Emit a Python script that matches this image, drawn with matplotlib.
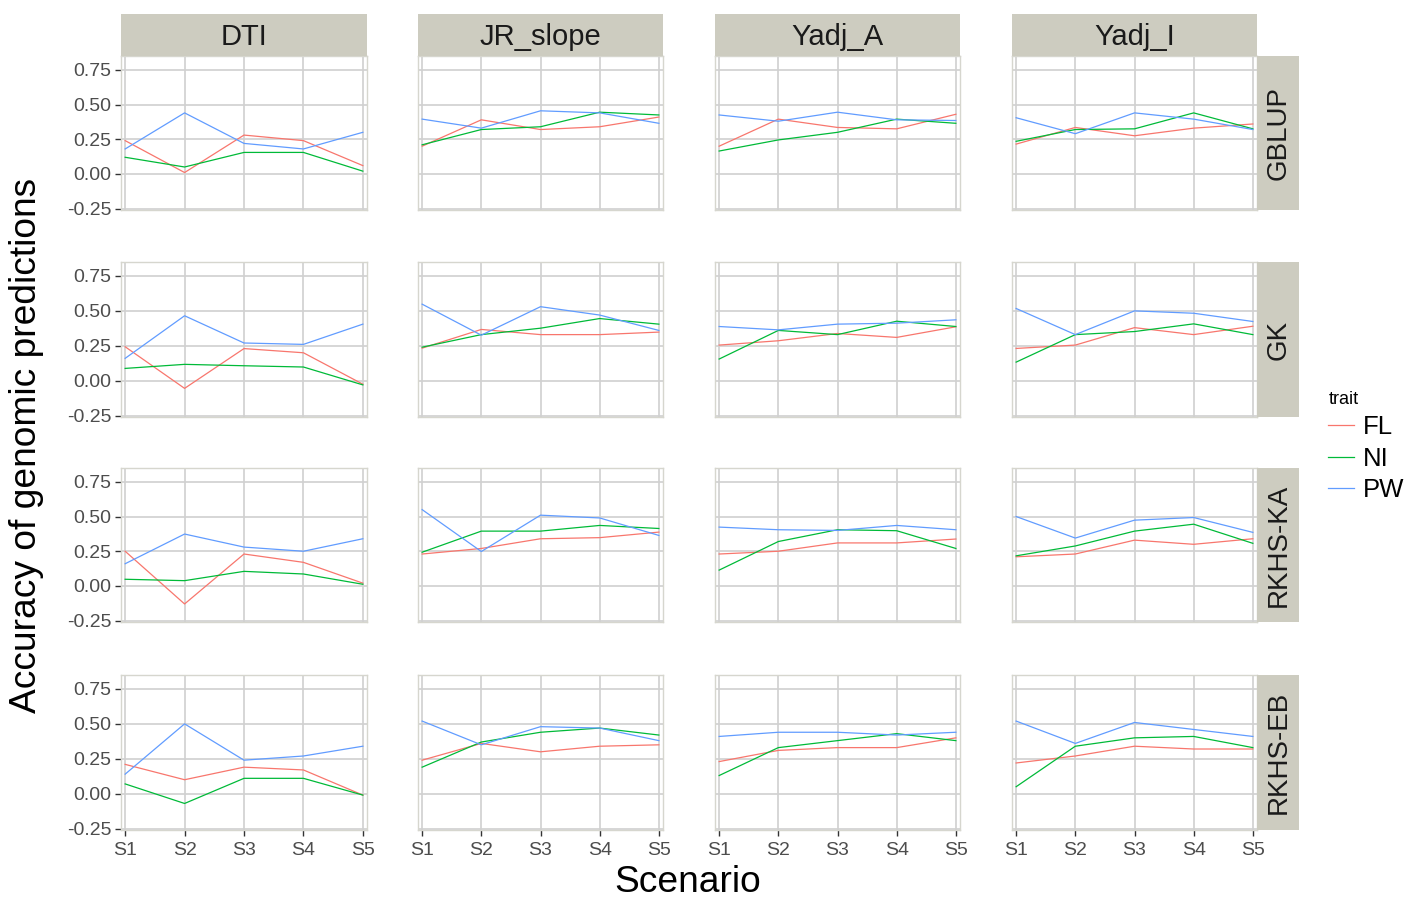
import matplotlib
matplotlib.use("Agg")
import matplotlib.pyplot as plt
from matplotlib.lines import Line2D

plt.rcParams['font.family'] = ['Liberation Sans', 'DejaVu Sans']

# Facet levels and axis labels
indices = ["DTI", "JR_slope", "Yadj_A", "Yadj_I"]
methods = ["GBLUP", "GK", "RKHS-KA", "RKHS-EB"]
scenarios = ["S1", "S2", "S3", "S4", "S5"]
traits = ["FL", "NI", "PW"]
y_ticks = [-0.25, 0.00, 0.25, 0.50, 0.75]

# Accuracy per method and trait; each inner list is one index (DTI, JR_slope, Yadj_A, Yadj_I) over S1..S5
GBLUP_FL = [[0.24, 0.01, 0.28, 0.24, 0.06], [0.20, 0.39, 0.32, 0.34, 0.41],
            [0.20, 0.395, 0.335, 0.325, 0.43], [0.215, 0.335, 0.275, 0.33, 0.36]]
GBLUP_NI = [[0.12, 0.05, 0.155, 0.155, 0.02], [0.21, 0.32, 0.34, 0.445, 0.425],
            [0.165, 0.245, 0.30, 0.395, 0.365], [0.235, 0.32, 0.325, 0.44, 0.325]]
GBLUP_PW = [[0.18, 0.44, 0.22, 0.18, 0.30], [0.395, 0.33, 0.455, 0.44, 0.365],
            [0.425, 0.38, 0.445, 0.39, 0.385], [0.405, 0.29, 0.44, 0.395, 0.32]]

GK_FL = [[0.243, -0.055, 0.23, 0.20, -0.025], [0.233, 0.367, 0.33, 0.33, 0.348],
         [0.255, 0.286, 0.338, 0.31, 0.386], [0.231, 0.255, 0.38, 0.33, 0.39]]
GK_NI = [[0.088, 0.117, 0.107, 0.098, -0.03], [0.24, 0.33, 0.376, 0.445, 0.405],
         [0.155, 0.36, 0.33, 0.426, 0.388], [0.133, 0.33, 0.352, 0.407, 0.33]]
GK_PW = [[0.16, 0.465, 0.27, 0.26, 0.405], [0.548, 0.326, 0.53, 0.47, 0.36],
         [0.388, 0.364, 0.405, 0.412, 0.436], [0.517, 0.33, 0.50, 0.483, 0.424]]

KA_FL = [[0.25, -0.13, 0.23, 0.17, 0.02], [0.23, 0.27, 0.34, 0.348, 0.388],
         [0.23, 0.25, 0.31, 0.31, 0.338], [0.21, 0.23, 0.33, 0.30, 0.34]]
KA_NI = [[0.048, 0.038, 0.105, 0.086, 0.012], [0.243, 0.395, 0.395, 0.436, 0.414],
         [0.114, 0.32, 0.405, 0.398, 0.27], [0.217, 0.288, 0.395, 0.445, 0.307]]
KA_PW = [[0.16, 0.374, 0.28, 0.25, 0.34], [0.55, 0.248, 0.51, 0.49, 0.364],
         [0.424, 0.405, 0.40, 0.436, 0.405], [0.50, 0.345, 0.474, 0.493, 0.386]]

EB_FL = [[0.21, 0.10, 0.19, 0.17, -0.01], [0.24, 0.36, 0.30, 0.34, 0.35],
         [0.23, 0.31, 0.33, 0.33, 0.40], [0.22, 0.27, 0.34, 0.32, 0.32]]
EB_NI = [[0.07, -0.07, 0.11, 0.11, -0.01], [0.19, 0.37, 0.44, 0.47, 0.42],
         [0.13, 0.33, 0.38, 0.43, 0.38], [0.05, 0.34, 0.40, 0.41, 0.33]]
EB_PW = [[0.14, 0.50, 0.24, 0.27, 0.34], [0.52, 0.35, 0.48, 0.47, 0.38],
         [0.41, 0.44, 0.44, 0.42, 0.44], [0.52, 0.36, 0.51, 0.46, 0.41]]

series = {
    "GBLUP": {"FL": GBLUP_FL, "NI": GBLUP_NI, "PW": GBLUP_PW},
    "GK": {"FL": GK_FL, "NI": GK_NI, "PW": GK_PW},
    "RKHS-KA": {"FL": KA_FL, "NI": KA_NI, "PW": KA_PW},
    "RKHS-EB": {"FL": EB_FL, "NI": EB_NI, "PW": EB_PW},
}

trait_colors = {"FL": "#F8766D", "NI": "#00BA38", "PW": "#619CFF"}

W, H = 1409, 897
fig = plt.figure(figsize=(W / 100, H / 100), dpi=100)

col_px = [(121, 367), (418, 663), (715, 960), (1012, 1257)]
row_px = [(56, 210), (262, 417), (468, 622), (675, 830)]
strip_color = "#CDCCC0"
grid_color = "#D0D0D0"
border_color = "#D6D6CE"
tick_color = "#4D4D4D"


def px_rect(x0, y0, x1, y1):
    return [x0 / W, 1 - y1 / H, (x1 - x0) / W, (y1 - y0) / H]


for r, method in enumerate(methods):
    y0, y1 = row_px[r]
    for c, index in enumerate(indices):
        x0, x1 = col_px[c]
        ax = fig.add_axes(px_rect(x0, y0, x1, y1))
        xs = list(range(1, len(scenarios) + 1))
        for t in traits:
            ax.plot(xs, series[method][t][c], color=trait_colors[t], lw=0.9, zorder=3)
        ax.set_xlim(0.93, 5.07)
        ax.set_ylim(-0.26, 0.85)
        ax.set_xticks(xs)
        ax.set_yticks(y_ticks)
        ax.grid(True, color=grid_color, lw=1.2, zorder=0)
        ax.set_axisbelow(True)
        for sp in ax.spines.values():
            sp.set_color(border_color)
            sp.set_linewidth(1.0)
        ax.tick_params(axis="both", colors="#333333", labelcolor=tick_color,
                       labelsize=14, length=4, width=1, pad=3)
        ax.tick_params(axis="x", pad=4.5)
        if c == 0:
            ax.set_yticklabels(["-0.25", "0.00", "0.25", "0.50", "0.75"])
        else:
            ax.tick_params(axis="y", length=0, labelleft=False)
        if r == len(methods) - 1:
            ax.set_xticklabels(scenarios)
        else:
            ax.tick_params(axis="x", length=0, labelbottom=False)

        # top strip with the index name
        if r == 0:
            sax = fig.add_axes(px_rect(x0, 14, x1, 56))
            sax.set_facecolor(strip_color)
            sax.set_xticks([]); sax.set_yticks([])
            for sp in sax.spines.values():
                sp.set_visible(False)
            sax.text(0.5, 0.45, index, ha="center", va="center", fontsize=21,
                     color="#1A1A1A", transform=sax.transAxes)
    # right strip with the method name
    rax = fig.add_axes(px_rect(1257, y0, 1299, y1))
    rax.set_facecolor(strip_color)
    rax.set_xticks([]); rax.set_yticks([])
    for sp in rax.spines.values():
        sp.set_visible(False)
    rax.text(0.52, 0.5, method, ha="center", va="center", fontsize=20,
             rotation=90, color="#1A1A1A", transform=rax.transAxes)

# axis titles
fig.text(688 / W, 1 - 882 / H, "Scenario", ha="center", va="center", fontsize=26.7)
fig.text(27 / W, 1 - 445 / H, "Accuracy of genomic predictions", ha="center",
         va="center", rotation=90, fontsize=26.7)

# legend
handles = [Line2D([0], [0], color=trait_colors[t], lw=0.9) for t in traits]
leg = fig.legend(handles, traits, title="trait", loc="upper left",
                 bbox_to_anchor=(1318 / W, 1 - 381 / H), frameon=False,
                 fontsize=18.5, title_fontsize=13, handlelength=1.0,
                 handletextpad=0.35, labelspacing=0.28, borderaxespad=0)
leg._legend_box.align = "left"

fig.savefig("out.png", dpi=100)
